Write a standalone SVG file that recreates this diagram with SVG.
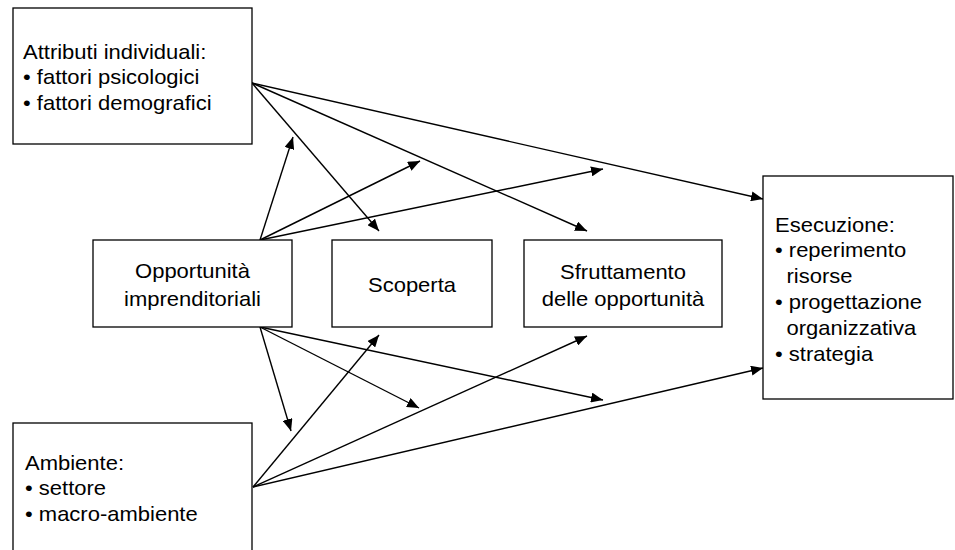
<svg xmlns="http://www.w3.org/2000/svg" width="955" height="550" viewBox="0 0 955 550">
<defs>
<style>
.box{fill:#ffffff;stroke:#000000;stroke-width:1.3}
.t{font-family:"Liberation Sans",Arial,sans-serif;font-size:20px;fill:#000000}
.c{text-anchor:middle}
.ln{stroke:#000000;stroke-width:1.4;fill:none;marker-end:url(#ah)}
</style>
<marker id="ah" viewBox="0 0 12 10" refX="12" refY="5" markerWidth="12" markerHeight="10" markerUnits="userSpaceOnUse" orient="auto">
<path d="M0,0 L12,5 L0,10 z" fill="#000000"/>
</marker>
</defs>
<rect width="955" height="550" fill="#ffffff"/>
<g id="connectors">
<line class="ln" x1="252" y1="83" x2="763" y2="199"/>
<line class="ln" x1="252" y1="83" x2="587" y2="231"/>
<line class="ln" x1="252" y1="83" x2="379" y2="231"/>
<line class="ln" x1="260" y1="240" x2="293" y2="137"/>
<line class="ln" x1="260" y1="240" x2="420" y2="161"/>
<line class="ln" x1="260" y1="240" x2="603" y2="169"/>
<line class="ln" x1="260" y1="327" x2="291" y2="431"/>
<line class="ln" x1="260" y1="327" x2="419" y2="408"/>
<line class="ln" x1="260" y1="327" x2="603" y2="400"/>
<line class="ln" x1="253" y1="487" x2="379" y2="335"/>
<line class="ln" x1="253" y1="487" x2="587" y2="336"/>
<line class="ln" x1="253" y1="487" x2="763" y2="368"/>
</g>
<g id="attributi">
<rect class="box" x="13" y="8" width="239" height="136"/>
<text class="t" transform="translate(23,59) scale(1.1,1)"><tspan x="0" y="0">Attributi individuali:</tspan><tspan x="0" y="25">• fattori psicologici</tspan><tspan x="0" y="51">• fattori demografici</tspan></text>
</g>
<g id="opportunita">
<rect class="box" x="93" y="240" width="199" height="87"/>
<text class="t c" transform="translate(192.5,278) scale(1.1,1)"><tspan x="0" y="0">Opportunità</tspan><tspan x="0" y="28">imprenditoriali</tspan></text>
</g>
<g id="scoperta">
<rect class="box" x="332" y="240" width="160" height="87"/>
<text class="t c" transform="translate(412,292) scale(1.1,1)">Scoperta</text>
</g>
<g id="sfruttamento">
<rect class="box" x="524" y="240" width="198" height="87"/>
<text class="t c" transform="translate(623,279) scale(1.1,1)"><tspan x="0" y="0">Sfruttamento</tspan><tspan x="0" y="27">delle opportunità</tspan></text>
</g>
<g id="esecuzione">
<rect class="box" x="763" y="176" width="190" height="223"/>
<text class="t" transform="translate(775,231.5) scale(1.1,1)"><tspan x="0" y="0">Esecuzione:</tspan><tspan x="0" y="26">• reperimento</tspan><tspan x="10.5" y="52">risorse</tspan><tspan x="0" y="78">• progettazione</tspan><tspan x="10.5" y="104">organizzativa</tspan><tspan x="0" y="130">• strategia</tspan></text>
</g>
<g id="ambiente">
<rect class="box" x="13" y="423" width="239" height="140"/>
<text class="t" transform="translate(25,470) scale(1.1,1)"><tspan x="0" y="0">Ambiente:</tspan><tspan x="0" y="25">• settore</tspan><tspan x="0" y="51">• macro-ambiente</tspan></text>
</g>
</svg>
